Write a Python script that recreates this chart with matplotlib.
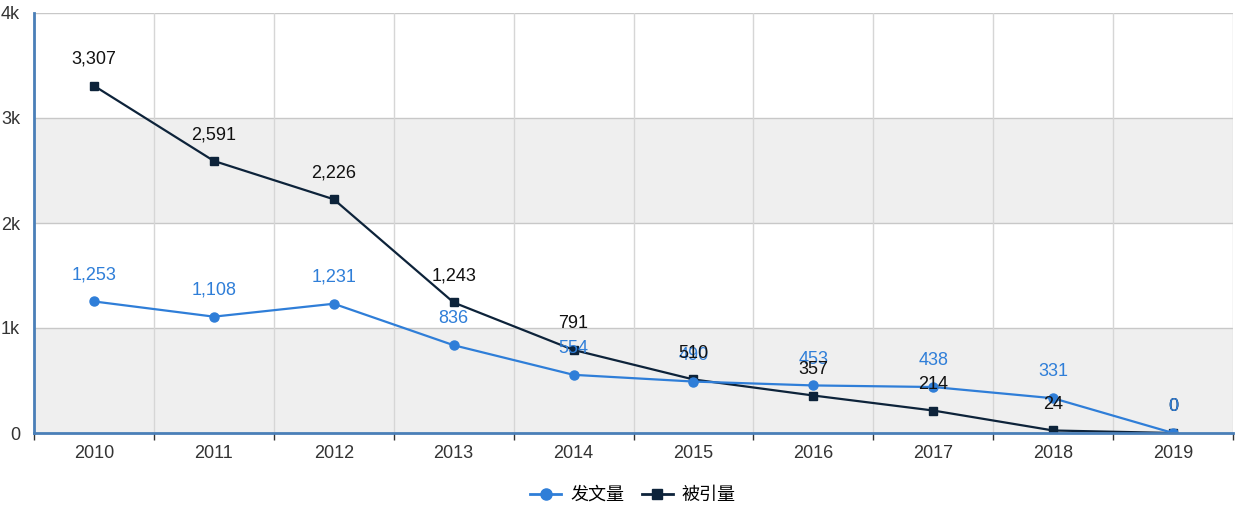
import matplotlib
matplotlib.use("Agg")
import matplotlib.pyplot as plt
from matplotlib.ticker import FixedLocator, FuncFormatter
from matplotlib.lines import Line2D

years = ["2010", "2011", "2012", "2013", "2014", "2015", "2016", "2017", "2018", "2019"]
papers = [1253, 1108, 1231, 836, 554, 490, 453, 438, 331, 0]
citations = [3307, 2591, 2226, 1243, 791, 510, 357, 214, 24, 0]
y_ticks = [0, 1000, 2000, 3000, 4000]
y_labels = ["0", "1k", "2k", "3k", "4k"]

BLUE = "#2f7ed8"
NAVY = "#0d233a"
AXIS = "#4a7fb8"

plt.rcParams["font.family"] = ["Liberation Sans", "DejaVu Sans"]

fig = plt.figure(figsize=(12.39, 5.09), dpi=100)
ax = fig.add_axes([34 / 1239, 76 / 509, 1199 / 1239, 420 / 509])

x = list(range(len(years)))
ax.set_xlim(-0.5, len(years) - 0.5)
ax.set_ylim(0, 4000)

# alternating bands
for i in range(len(y_ticks) - 1):
    if i % 2 == 0:
        ax.axhspan(y_ticks[i], y_ticks[i + 1], color="#efefef", zorder=0, lw=0)
for t in y_ticks[1:]:
    ax.axhline(t, color="#c8c8c8", lw=1, zorder=1)
for b in range(len(years) + 1):
    ax.axvline(b - 0.5, color="#d6d6d6", lw=1, zorder=1)

ax.plot(x, citations, color=NAVY, lw=1.6, marker="s", ms=6, zorder=3)
ax.plot(x, papers, color=BLUE, lw=1.6, marker="o", ms=6.5, zorder=4)

FS = 13
for xi, v in zip(x, papers):
    ax.annotate(f"{v:,}", (xi, v), xytext=(0, 19), textcoords="offset points",
                ha="center", va="center", fontsize=FS, color=BLUE, zorder=5)
for xi, v in zip(x, citations):
    ax.annotate(f"{v:,}", (xi, v), xytext=(0, 19), textcoords="offset points",
                ha="center", va="center", fontsize=FS, color="#111111", zorder=6)
# 2019: blue label on top
ax.annotate("0", (9, 0), xytext=(0, 19), textcoords="offset points",
            ha="center", va="center", fontsize=FS, color=BLUE, zorder=7)

ax.set_xticks(x)
ax.set_xticklabels(years, fontsize=13, color="#333333")
ax.xaxis.set_minor_locator(FixedLocator([b - 0.5 for b in range(len(years) + 1)]))
ax.tick_params(axis="x", which="major", length=0, pad=9)
ax.tick_params(axis="x", which="minor", length=5, width=1, color="#333333", direction="out")
ax.yaxis.set_major_locator(FixedLocator(y_ticks))
ax.yaxis.set_major_formatter(FuncFormatter(lambda v, p: y_labels[y_ticks.index(int(v))]))
ax.tick_params(axis="y", length=0, pad=10, labelsize=13, labelcolor="#333333")

for s in ["top", "right"]:
    ax.spines[s].set_visible(False)
for s in ["left", "bottom"]:
    ax.spines[s].set_color(AXIS)
    ax.spines[s].set_linewidth(2)
    ax.spines[s].set_zorder(8)

handles = [
    Line2D([], [], color=BLUE, lw=2, marker="o", ms=8),
    Line2D([], [], color=NAVY, lw=2, marker="s", ms=7),
]
fig.legend(handles, ["发文量", "被引量"], loc="center", bbox_to_anchor=(633 / 1239, 1 - 495 / 509),
           ncol=2, frameon=False, handlelength=1.7, handletextpad=0.5, columnspacing=1.0,
           prop={"family": ["Noto Sans CJK SC", "DejaVu Sans"], "size": 13})

fig.savefig("out.png", dpi=100)
